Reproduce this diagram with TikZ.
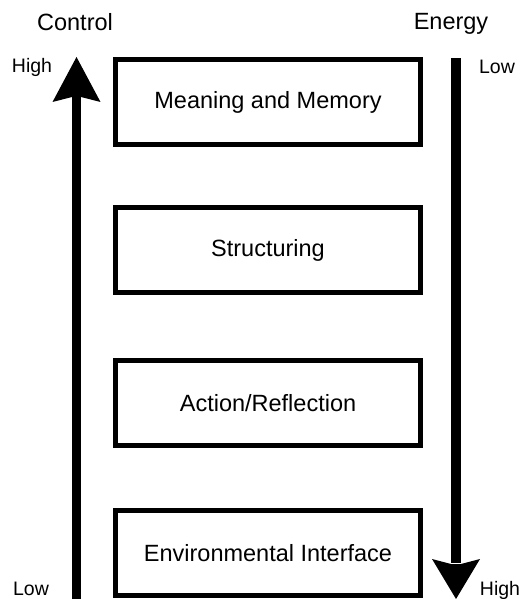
\documentclass[tikz,border=0pt]{standalone}
\usepackage{fontspec}
\setmainfont{Liberation Sans}
\begin{document}
\begin{tikzpicture}[x=1pt,y=-1pt,
  layerbox/.style={draw=black, line width=5pt, minimum width=305pt,
    minimum height=85pt, inner sep=0pt, font=\fontsize{23.5}{26}\selectfont},
  axistitle/.style={anchor=base, font=\fontsize{23.5}{26}\selectfont},
  axislevel/.style={anchor=base, font=\fontsize{19.5}{22}\selectfont},
  bigarrow/.style={fill=black, draw=none}]
\useasboundingbox (0,0) rectangle (522,599);

% the four layers
\node[layerbox] (meaning)   at (268,102) {Meaning and Memory};
\node[layerbox] (struct)    at (268,250) {Structuring};
\node[layerbox] (action)    at (268,403) {Action/Reflection};
\node[layerbox] (envir)     at (268,553) {Environmental Interface};

% axis titles and levels
\node[axistitle] (control) at (75,31) {Control};
\node[axistitle] (energy)  at (451,30) {Energy};
\node[axislevel] (ctrlhigh) at (32,73) {High};
\node[axislevel] (ctrllow)  at (31,595) {Low};
\node[axislevel] (enlow)    at (497,74) {Low};
\node[axislevel] (enhigh)   at (500,595) {High};

% control axis: upward arrow
\coordinate (ctrlTip) at (76.5,57);
\coordinate (ctrlTail) at (76.5,599);
\fill[bigarrow] ([xshift=-4.5pt]ctrlTail) rectangle ([xshift=4.5pt,yshift=-40pt]ctrlTip);
\fill[bigarrow] (ctrlTip) -- ++(24,45) -- ++(-19.5,-5) -- ++(-9,0) -- ++(-19.5,5) -- cycle;

% energy axis: downward arrow
\coordinate (enTail) at (456,58);
\coordinate (enTip) at (456,599);
\fill[bigarrow] ([xshift=-5pt]enTail) rectangle ([xshift=5pt,yshift=36pt]enTip);
\fill[bigarrow] (enTip) -- ++(24,-40) -- ++(-19,5) -- ++(-10,0) -- ++(-19,-5) -- cycle;
\end{tikzpicture}
\end{document}
